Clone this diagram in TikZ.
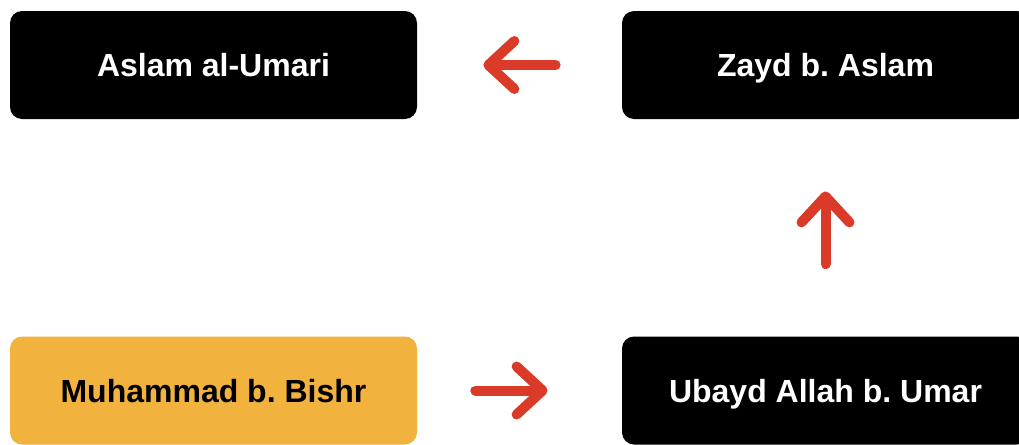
\documentclass[tikz,border=0pt]{standalone}
\usepackage{fontspec}
\setmainfont{Liberation Sans}
\usetikzlibrary{arrows.meta}
\definecolor{boxorange}{RGB}{242,178,62}
\definecolor{arrowred}{RGB}{218,58,40}
\frenchspacing
\tikzset{
  person/.style={rounded corners=6pt,minimum width=203.5pt,minimum height=54pt,inner sep=0pt,text height=11.6pt,text depth=0pt,font=\fontsize{16}{19}\selectfont\bfseries},
  linkarrow/.style={draw=arrowred,line width=5pt,line cap=round,-{Straight Barb[length=13pt,width=24pt,round]}}
}
\begin{document}
\begin{tikzpicture}[x=0.5pt,y=-0.5pt]
\clip (0,0) rectangle (1019,445);
\fill[white] (0,0) rectangle (1019,445);
\node[person,fill=black,text=white] (aslam) at (213.5,65) {Aslam al-Umari};
\node[person,fill=black,text=white] (zayd) at (825.5,65) {Zayd b. Aslam};
\node[person,fill=boxorange,text=black] (bishr) at (213.5,390.5) {Muhammad b. Bishr};
\node[person,fill=black,text=white] (ubayd) at (825.5,390.5) {Ubayd Allah b. Umar};
%
\draw[linkarrow,shorten <=33pt,shorten >=33pt] (zayd) -- (aslam);
\draw[linkarrow,shorten <=36pt,shorten >=36pt] (ubayd) -- (zayd);
\draw[linkarrow,shorten <=29pt,shorten >=37pt] (bishr) -- (ubayd);
\end{tikzpicture}
\end{document}
